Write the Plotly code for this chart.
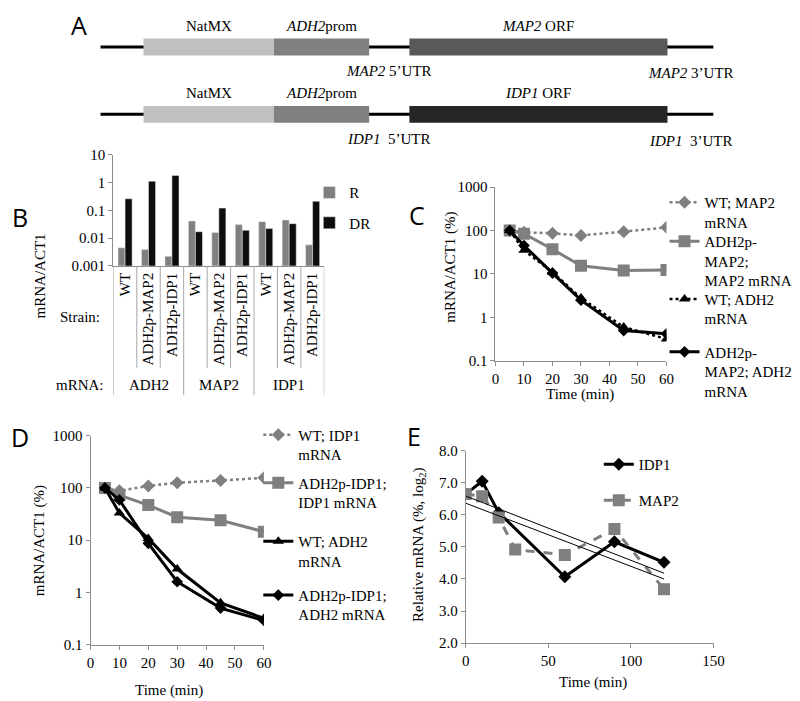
import numpy as np
import plotly.graph_objects as go

W, H = 800, 701
def X(px): return px / W
def Y(py): return 1 - py / H

SERIF = "Liberation Serif"
SANS = "Open Sans"
GRAY = "#7f7f7f"
AXC = "#8c8c8c"

# ---------------- Panel A: construct schematic ----------------
construct_rows = ["MAP2", "IDP1"]
backbone_len = 625
seg_names = ["NatMX", "ADH2prom", "ORF"]
seg_start = [44, 177, 315]
seg_end = [177, 274, 578]
seg_colors = {"MAP2": ["#c0c0c0", "#808080", "#595959"],
              "IDP1": ["#c0c0c0", "#808080", "#262626"]}

# ---------------- Panel B ----------------
b_groups = ["ADH2", "MAP2", "IDP1"]
b_strains = ["WT", "ADH2p-MAP2", "ADH2p-IDP1"] * 3
b_R = [0.0045, 0.0039, 0.0022, 0.041, 0.016, 0.031, 0.039, 0.045, 0.0057]
b_DR = [0.26, 1.12, 1.8, 0.017, 0.12, 0.019, 0.022, 0.033, 0.21]

# ---------------- Panel C ----------------
t_cd = [5, 10, 20, 30, 45, 60]
c_wt_map2 = [100, 91, 86, 77, 94, 118]
c_adh2p_map2_map2 = [100, 84, 37, 15.5, 12, 12.3]
c_wt_adh2 = [100, 35, 11, 2.8, 0.6, 0.32]
c_adh2p_map2_adh2 = [100, 45, 10.5, 2.5, 0.5, 0.42]

# ---------------- Panel D ----------------
d_wt_idp1 = [100, 88, 109, 126, 139, 156]
d_adh2p_idp1_idp1 = [100, 73, 47, 27.5, 24, 14.5]
d_wt_adh2 = [100, 33, 10.8, 2.8, 0.63, 0.32]
d_adh2p_idp1_adh2 = [100, 59, 8.7, 1.6, 0.5, 0.29]

# ---------------- Panel E ----------------
e_t_idp1 = [0, 10, 20, 60, 90, 120]
e_idp1 = [6.65, 7.05, 6.07, 4.07, 5.16, 4.52]
e_t_map2 = [0, 10, 20, 30, 60, 90, 120]
e_map2 = [6.65, 6.58, 5.92, 4.92, 4.75, 5.56, 3.68]

fig = go.Figure()
shapes = []
ann = []

def txt(text, x, y, xref="paper", yref="paper", size=15, family=SERIF, **kw):
    d = dict(text=text, x=x, y=y, xref=xref, yref=yref, showarrow=False,
             xanchor="center", yanchor="middle",
             font=dict(family=family, size=size, color="black"))
    d.update(kw)
    ann.append(d)

# ---- Panel A drawing (shapes in axis coordinates) ----
for r, gene in enumerate(construct_rows):
    shapes.append(dict(type="line", xref="x", yref="y", x0=0, x1=backbone_len,
                       y0=r, y1=r, line=dict(color="black", width=3)))
    for i, (s, e) in enumerate(zip(seg_start, seg_end)):
        shapes.append(dict(type="rect", xref="x", yref="y", x0=s, x1=e,
                           y0=r - 0.125, y1=r + 0.125,
                           fillcolor=seg_colors[gene][i], line=dict(width=0)))
    labels = ["NatMX", "<i>ADH2</i>prom", f"<i>{gene}</i> ORF"]
    for i, lab in enumerate(labels):
        txt(lab, (seg_start[i] + seg_end[i]) / 2, r - 0.31, "x", "y")
    sep = " " if gene == "MAP2" else "  "
    txt(f"<i>{gene}</i>{sep}5’UTR", (seg_end[1] + seg_start[2]) / 2, r + 0.36, "x", "y")
    txt(f"<i>{gene}</i>{sep}3’UTR", (seg_end[2] + backbone_len) / 2, r + 0.39, "x", "y")

# invisible trace to activate panel A axes
fig.add_trace(go.Scatter(x=[0, backbone_len], y=[0, 1], mode="markers",
                         marker=dict(opacity=0), xaxis="x", yaxis="y",
                         showlegend=False, hoverinfo="skip"))

# ---- Panel B ----
bx = list(range(len(b_strains)))
fig.add_trace(go.Bar(x=bx, y=b_R, name="R", marker_color="#808080",
                     xaxis="x2", yaxis="y2", legend="legend"))
fig.add_trace(go.Bar(x=bx, y=b_DR, name="DR", marker_color="#0d0d0d",
                     xaxis="x2", yaxis="y2", legend="legend2"))
for k in range(-1, len(b_strains)):
    xs = k + 0.5
    long = (k + 1) % 3 == 0
    shapes.append(dict(type="line", xref="x2", yref="paper", x0=xs, x1=xs,
                       y0=Y(255.7), y1=Y(388 if long else 360),
                       line=dict(color="#a6a6a6", width=1)))
for gi, g in enumerate(b_groups):
    txt(g, gi * 3 + 1, Y(378), "x2", "paper")
txt("Strain:", X(92), Y(308), xanchor="right")
txt("mRNA:", X(96), Y(378), xanchor="right")

# ---- Panel C ----
def line_trace(x, y, name, color, dash, symbol, msize, lw, xa, ya, leg):
    return go.Scatter(x=x, y=y, name=name, mode="lines+markers",
                      line=dict(color=color, width=lw, dash=dash),
                      marker=dict(symbol=symbol, size=msize, color=color),
                      xaxis=xa, yaxis=ya, legend=leg)

fig.add_trace(line_trace(t_cd, c_wt_map2, "WT; MAP2<br>mRNA", GRAY, "dot", "diamond", 10, 2.5, "x3", "y3", "legend3"))
fig.add_trace(line_trace(t_cd, c_adh2p_map2_map2, "ADH2p-<br>MAP2;<br>MAP2 mRNA", GRAY, "solid", "square", 12, 3, "x3", "y3", "legend4"))
fig.add_trace(line_trace(t_cd, c_wt_adh2, "WT; ADH2<br>mRNA", "black", "dot", "triangle-up", 10, 2.5, "x3", "y3", "legend5"))
fig.add_trace(line_trace(t_cd, c_adh2p_map2_adh2, "ADH2p-<br>MAP2; ADH2<br>mRNA", "black", "solid", "diamond", 9, 3, "x3", "y3", "legend6"))

# ---- Panel D ----
fig.add_trace(line_trace(t_cd, d_wt_idp1, "WT; IDP1<br>mRNA", GRAY, "dot", "diamond", 10, 2.5, "x4", "y4", "legend7"))
fig.add_trace(line_trace(t_cd, d_adh2p_idp1_idp1, "ADH2p-IDP1;<br>IDP1 mRNA", GRAY, "solid", "square", 12, 3, "x4", "y4", "legend8"))
fig.add_trace(line_trace(t_cd, d_wt_adh2, "WT; ADH2<br>mRNA", "black", "solid", "triangle-up", 10, 3, "x4", "y4", "legend9"))
fig.add_trace(line_trace(t_cd, d_adh2p_idp1_adh2, "ADH2p-IDP1;<br>ADH2 mRNA", "black", "solid", "diamond", 9, 3, "x4", "y4", "legend10"))

# ---- Panel E ----
fig.add_trace(line_trace(e_t_idp1, e_idp1, "IDP1", "black", "solid", "diamond", 10, 3, "x5", "y5", "legend11"))
fig.add_trace(line_trace(e_t_map2, e_map2, "MAP2", GRAY, "dash", "square", 12, 3, "x5", "y5", "legend12"))
for tt, vv in [(e_t_idp1, e_idp1), (e_t_map2, e_map2)]:
    slope, icpt = np.polyfit(tt, vv, 1)
    tx = np.array([min(tt), max(tt)])
    fig.add_trace(go.Scatter(x=tx, y=slope * tx + icpt, mode="lines",
                             line=dict(color="black", width=1),
                             xaxis="x5", yaxis="y5", showlegend=False))

# ---- axis titles ----
txt("mRNA/ACT1", X(28), Y(266), textangle=-90)
txt("mRNA/ACT1 (%)", X(446), Y(257), textangle=-90)
txt("Time (min)", X(579), Y(387))
txt("mRNA/ACT1 (%)", X(28), Y(537), textangle=-90)
txt("Time (min)", X(160), Y(690))
txt("Relative mRNA (%, log<sub>2</sub>)", X(414), Y(541), textangle=-90)
txt("Time (min)", X(592), Y(682))

# ---- panel letters ----
for L, px, py in [("A", 68, 9), ("B", 8, 206), ("C", 413, 204), ("D", 8, 431), ("E", 410, 430)]:
    txt(L, X(px), Y(py), size=25, family=SANS)

tickfont = dict(family=SERIF, size=15, color="black")
def axis_style(**kw):
    d = dict(showgrid=False, zeroline=False, showline=True, linecolor=AXC,
             linewidth=1, ticks="outside", ticklen=4, tickcolor=AXC,
             tickfont=tickfont)
    d.update(kw)
    return d

logvals = [0.1, 1, 10, 100, 1000]
logtext = ["0.1", "1", "10", "100", "1000"]

leg_common = dict(font=dict(family=SERIF, size=15, color="black"),
                  bgcolor="rgba(0,0,0,0)", borderwidth=0, valign="top",
                  xanchor="left", yanchor="top", tracegroupgap=0)
def leg(px, py, off=26):
    d = dict(leg_common)
    d.update(x=X(px), y=Y(py - off))
    return d

layout = dict(
    width=W, height=H, margin=dict(l=0, r=0, t=0, b=0),
    font=dict(family=SERIF, size=15, color="black"),
    paper_bgcolor="white", plot_bgcolor="white",
    barmode="group", bargap=0.4, bargroupgap=0,
    xaxis=dict(domain=[X(90), X(715)], range=[0, backbone_len], visible=False),
    yaxis=dict(domain=[Y(140), Y(0)], range=[1.57, -0.459], visible=False),
    xaxis2=axis_style(domain=[X(103.3), X(318.3)], range=[-0.5, 8.5],
                      tickvals=bx, ticktext=b_strains, tickangle=-90, ticks="",
                      anchor="y2"),
    yaxis2=axis_style(domain=[Y(255.7), Y(142)], type="log", range=[-3, 1],
                      tickvals=[0.001, 0.01, 0.1, 1, 10],
                      ticktext=["0.001", "0.01", "0.1", "1", "10"], anchor="x2"),
    xaxis3=axis_style(domain=[X(492.7), X(667)], range=[0, 60], dtick=10, anchor="y3"),
    yaxis3=axis_style(domain=[Y(353), Y(175)], type="log", range=[-1, 3],
                      tickvals=logvals, ticktext=logtext, anchor="x3"),
    xaxis4=axis_style(domain=[X(80), X(256.7)], range=[0, 60], dtick=10, anchor="y4"),
    yaxis4=axis_style(domain=[Y(643.3), Y(429.5)], type="log", range=[-1, 3],
                      tickvals=logvals, ticktext=logtext, anchor="x4"),
    xaxis5=axis_style(domain=[X(462.3), X(715)], range=[0, 150], dtick=50, anchor="y5"),
    yaxis5=axis_style(domain=[Y(641.7), Y(445)], range=[2, 8], dtick=1,
                      tickformat=".1f", anchor="x5"),
    legend=leg(303, 192, 28), legend2=leg(303, 223, 28),
    legend3=leg(665, 201, 27), legend4=leg(665, 241, 27), legend5=leg(665, 300, 27), legend6=leg(665, 354, 27),
    legend7=leg(251, 434, 22), legend8=leg(251, 483, 22), legend9=leg(251, 543, 22), legend10=leg(251, 598, 22),
    legend11=leg(598, 463, 21), legend12=leg(598, 500, 21),
    shapes=shapes, annotations=ann, showlegend=True,
)
fig.update_layout(**layout)
fig.write_html("out.html")
